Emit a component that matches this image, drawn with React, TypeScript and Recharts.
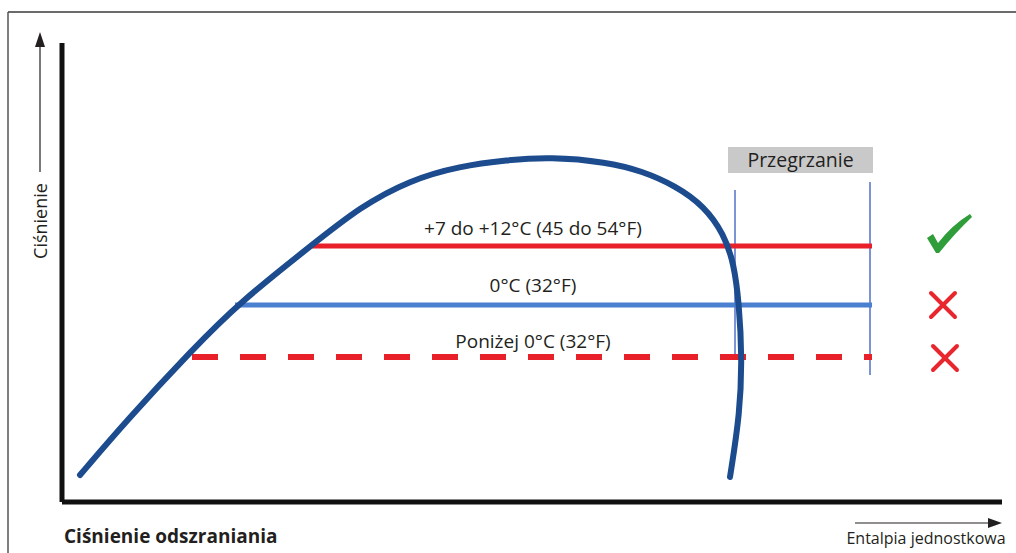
import React from 'react';
import {
  ComposedChart,
  Line,
  Scatter,
  XAxis,
  YAxis,
  ReferenceArea,
  ReferenceDot,
  ReferenceLine,
} from 'recharts';

// enthalpy (x) / pressure (y), arbitrary units
const domePoints = [
  { x: 18, y: 27 },
  { x: 65, y: 82 },
  { x: 130, y: 152 },
  { x: 178, y: 200 },
  { x: 250, y: 257 },
  { x: 298, y: 295 },
  { x: 348, y: 322 },
  { x: 398, y: 336 },
  { x: 445, y: 342 },
  { x: 488, y: 345 },
  { x: 545, y: 340 },
  { x: 580, y: 331 },
  { x: 614, y: 316 },
  { x: 642, y: 296 },
  { x: 662, y: 268 },
  { x: 672, y: 238 },
  { x: 677, y: 199 },
  { x: 680, y: 145 },
  { x: 678, y: 89 },
  { x: 668, y: 25 },
];

const warmLine = [{ x: 250, y: 256 }, { x: 810, y: 256 }];
const zeroLine = [{ x: 173, y: 197 }, { x: 810, y: 197 }];
const belowLine = [{ x: 130, y: 145 }, { x: 810, y: 145 }];

const superheatLeft = [{ x: 673, y: 312 }, { x: 673, y: 145 }];
const superheatRight = [{ x: 808, y: 320 }, { x: 808, y: 127 }];

const lineLabels = [
  { x: 471, y: 274, text: '+7 do +12°C (45 do 54°F)' },
  { x: 471, y: 217, text: '0°C (32°F)' },
  { x: 471, y: 161, text: 'Poniżej 0°C (32°F)' },
];

const verdicts = [
  { x: 886, y: 265, ok: true },
  { x: 881, y: 197, ok: false },
  { x: 883, y: 144, ok: false },
];

const FONT = '"Open Sans", "Noto Sans", sans-serif';
const TEXT = '#231f20';

const VerdictMark = (props: any) => {
  const { cx, cy, payload } = props;
  if (payload.ok) {
    return (
      <path
        transform={`translate(${cx},${cy})`}
        d="M -21 1 L -15 -3 L -10 6 Q 4 -12 22 -23 L 24 -20 Q 7 -4 -9 16 L -12 16 Z"
        fill="#2f9d3a"
      />
    );
  }
  return (
    <g transform={`translate(${cx},${cy})`} stroke="#e8262d" strokeWidth={4} strokeLinecap="round">
      <line x1={-12} y1={-12} x2={12} y2={12} />
      <line x1={12} y1={-12} x2={-12} y2={12} />
    </g>
  );
};

export default function App() {
  return (
    <div style={{ position: 'absolute', left: 0, top: 0, width: 1016, height: 553, background: '#fff' }}>
      <ComposedChart
        width={1016}
        height={553}
        margin={{ top: 43, right: 14, bottom: 51, left: 62 }}
      >
        <XAxis type="number" dataKey="x" domain={[0, 940]} allowDataOverflow hide />
        <YAxis type="number" dataKey="y" domain={[0, 459]} allowDataOverflow hide />
        <ReferenceLine x={0} stroke="#111" strokeWidth={5} />
        <ReferenceLine y={0} stroke="#111" strokeWidth={5} />
        <ReferenceArea
          x1={666}
          x2={811}
          y1={329}
          y2={355}
          fill="#c9c9ca"
          fillOpacity={1}
          stroke="none"
          label={{ value: 'Przegrzanie', position: 'center', fill: TEXT, fontSize: 19.5, fontFamily: FONT }}
        />
        <Line data={superheatLeft} dataKey="y" stroke="#5070c8" strokeWidth={1.5} dot={false} isAnimationActive={false} />
        <Line data={superheatRight} dataKey="y" stroke="#5070c8" strokeWidth={1.5} dot={false} isAnimationActive={false} />
        <Line data={warmLine} dataKey="y" stroke="#e8202a" strokeWidth={5} dot={false} isAnimationActive={false} />
        <Line data={zeroLine} dataKey="y" stroke="#4b7fcf" strokeWidth={5} dot={false} isAnimationActive={false} />
        <Line
          data={belowLine}
          dataKey="y"
          stroke="#e8202a"
          strokeWidth={6}
          strokeDasharray="26 22"
          dot={false}
          isAnimationActive={false}
        />
        <Line
          data={domePoints}
          dataKey="y"
          type="basis"
          stroke="#1c4b8e"
          strokeWidth={6}
          strokeLinecap="round"
          dot={false}
          isAnimationActive={false}
        />
        <Scatter data={verdicts} dataKey="y" shape={VerdictMark} isAnimationActive={false} />
        {lineLabels.map((l) => (
          <ReferenceDot
            key={l.text}
            x={l.x}
            y={l.y}
            r={0}
            stroke="none"
            label={{ value: l.text, position: 'center', fill: TEXT, fontSize: 19, fontFamily: FONT }}
          />
        ))}
      </ComposedChart>
      <svg
        width={1016}
        height={553}
        style={{ position: 'absolute', left: 0, top: 0, pointerEvents: 'none' }}
      >
        <line x1={8} y1={12} x2={1016} y2={12} stroke="#6b6b6b" strokeWidth={2} />
        <line x1={8} y1={12} x2={8} y2={553} stroke="#555" strokeWidth={1.5} />
        <line x1={40} y1={172} x2={40} y2={44} stroke={TEXT} strokeWidth={1.2} />
        <polygon points="40,32 35,47 45,47" fill={TEXT} />
        <text
          x={40}
          y={221}
          transform="rotate(-90 40 221)"
          textAnchor="middle"
          dominantBaseline="central"
          fontSize={18}
          fontFamily={FONT}
          fill={TEXT}
        >
          Ciśnienie
        </text>
        <text x={64} y={543} fontSize={19} fontWeight={700} fontFamily={FONT} fill={TEXT}>
          Ciśnienie odszraniania
        </text>
        <line x1={855} y1={523} x2={990} y2={523} stroke={TEXT} strokeWidth={1.2} />
        <polygon points="1002,523 988,518 988,528" fill={TEXT} />
        <text x={926} y={538} textAnchor="middle" dominantBaseline="central" fontSize={16} fontFamily={FONT} fill={TEXT}>
          Entalpia jednostkowa
        </text>
      </svg>
    </div>
  );
}
